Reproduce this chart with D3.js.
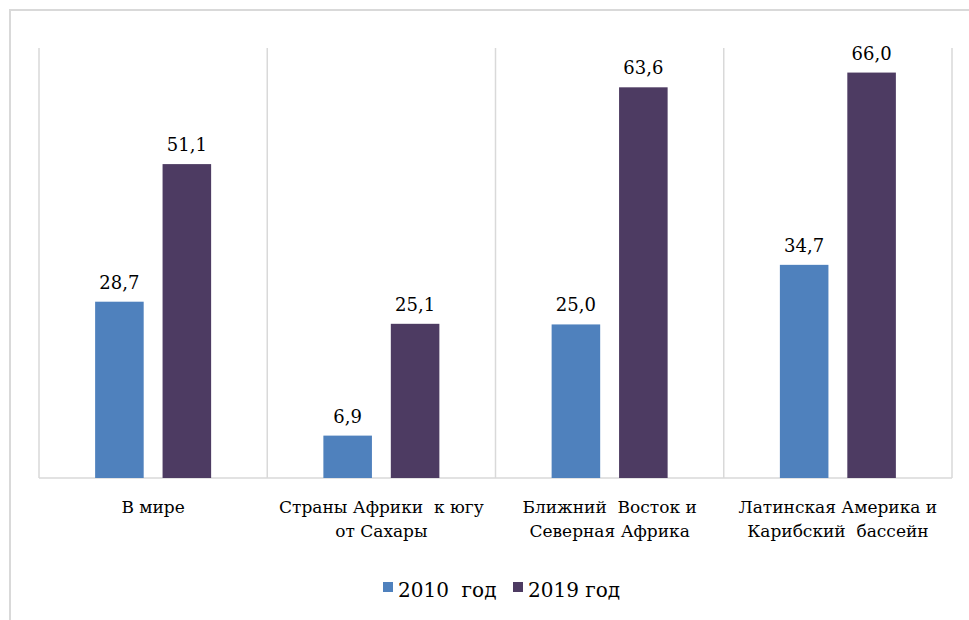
<!DOCTYPE html>
<html><head><meta charset="utf-8">
<script src="https://cdn.jsdelivr.net/npm/d3@7"></script>
<style>body{margin:0;background:#fff}text{white-space:pre}.serif{font-family:'DejaVu Serif','Liberation Serif','Noto Serif','Tinos','Times New Roman',serif}</style>
</head><body>
<svg id="c" width="969" height="620"></svg>
<script>
const categories = [
  ["В мире"],
  ["Страны Африки  к югу", "от Сахары"],
  ["Ближний  Восток и", "Северная Африка"],
  ["Латинская Америка и", "Карибский  бассейн"]
];
const seriesNames = ["2010  год", "2019 год"];
const values2010 = [28.7, 6.9, 25.0, 34.7];
const values2019 = [51.1, 25.1, 63.6, 66.0];
const colors = ["#4F81BD", "#4D3B62"];

const svg = d3.select("#c");
const m = {left: 39, right: 952, top: 48, bottom: 478};
const x = d3.scaleBand().domain(d3.range(categories.length)).range([m.left, m.right]).padding(0);
const y = d3.scaleLinear().domain([0, 70]).range([m.bottom, m.top]);
const inner = d3.scaleBand().domain([0, 1]).range([0, 116]).paddingInner(0.28);
const off = (x.bandwidth() - 116) / 2;

svg.append("path").attr("d", `M10,620 L10,10 L969,10`).attr("fill", "none").attr("stroke", "#d9d9d9").attr("stroke-width", 2);

const seps = d3.range(categories.length + 1).map(i => i === categories.length ? m.right : x(i));
svg.selectAll(".sep").data(seps).enter().append("line")
  .attr("x1", d => d).attr("x2", d => d).attr("y1", m.top).attr("y2", m.bottom)
  .attr("stroke", "#d9d9d9").attr("stroke-width", 1.5);
svg.append("line").attr("x1", m.left).attr("x2", m.right).attr("y1", m.bottom).attr("y2", m.bottom)
  .attr("stroke", "#d9d9d9").attr("stroke-width", 1.5);

const series = [values2010, values2019];
series.forEach((vals, s) => {
  const g = svg.append("g");
  g.selectAll("rect").data(vals).enter().append("rect")
    .attr("x", (d, i) => x(i) + off + inner(s))
    .attr("y", d => y(d))
    .attr("width", inner.bandwidth())
    .attr("height", d => y(0) - y(d))
    .attr("fill", colors[s]);
  g.selectAll("text").data(vals).enter().append("text")
    .attr("class", "serif")
    .attr("x", (d, i) => x(i) + off + inner(s) + inner.bandwidth() / 2)
    .attr("y", d => y(d) - 13)
    .attr("text-anchor", "middle")
    .attr("font-size", 18)
    .attr("fill", "#000")
    .text(d => d.toFixed(1).replace(".", ","));
});

categories.forEach((lines, i) => {
  const t = svg.append("text").attr("class", "serif").attr("text-anchor", "middle")
    .attr("font-size", 17).attr("fill", "#000");
  lines.forEach((ln, k) => {
    t.append("tspan").attr("x", x(i) + x.bandwidth() / 2).attr("y", 513 + k * 24).text(ln);
  });
});

const legX = [383, 513];
seriesNames.forEach((n, s) => {
  svg.append("rect").attr("x", legX[s]).attr("y", 582).attr("width", 10).attr("height", 10).attr("fill", colors[s]);
  svg.append("text").attr("class", "serif").attr("x", legX[s] + 15).attr("y", 597)
    .attr("font-size", 20).attr("fill", "#000").text(n);
});
</script>
</body></html>
